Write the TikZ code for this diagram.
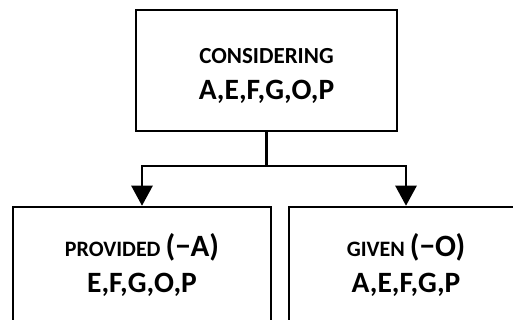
\documentclass[tikz,border=0pt]{standalone}
\usepackage{fontspec}
\setmainfont{Carlito}
\usetikzlibrary{arrows.meta}

\tikzset{
    stepbox/.style={draw, line width=2.5pt, align=center, inner sep=0pt,
        font=\fontsize{29.5}{36}\selectfont\bfseries},
    link/.style={line width=2.5pt, -{Triangle[width=21pt,length=20pt]}}
}

\begin{document}
\begin{tikzpicture}[x=1pt,y=-1pt]
            %page
            \useasboundingbox (0,0) rectangle (513,320);
            \clip (0,0) rectangle (513,320);

            %top box
            \node[stepbox, minimum width=261pt, minimum height=121pt] (considering) at (266.5,70.5)
                {\rule{0pt}{25pt}{\fontsize{23}{36}\selectfont CONSIDERING}\\
                 A,E,F,G,O,P};

            %lower boxes
            \node[stepbox, minimum width=258pt, minimum height=116pt] (provided) at (142,265)
                {{\fontsize{22}{36}\selectfont PROVIDED }{\fontsize{31}{36}\selectfont (−A)}\\
                 E,F,G,O,P};
            \node[stepbox, minimum width=234pt, minimum height=116pt] (given) at (406,265)
                {{\fontsize{22}{36}\selectfont GIVEN }{\fontsize{31}{36}\selectfont (−O)}\\
                 A,E,F,G,P};

            %connectors
            \draw[link] (considering.south) -- ++(0,34) -| (provided.north);
            \draw[link] (considering.south) -- ++(0,34) -| (given.north);

        \end{tikzpicture}
\end{document}
